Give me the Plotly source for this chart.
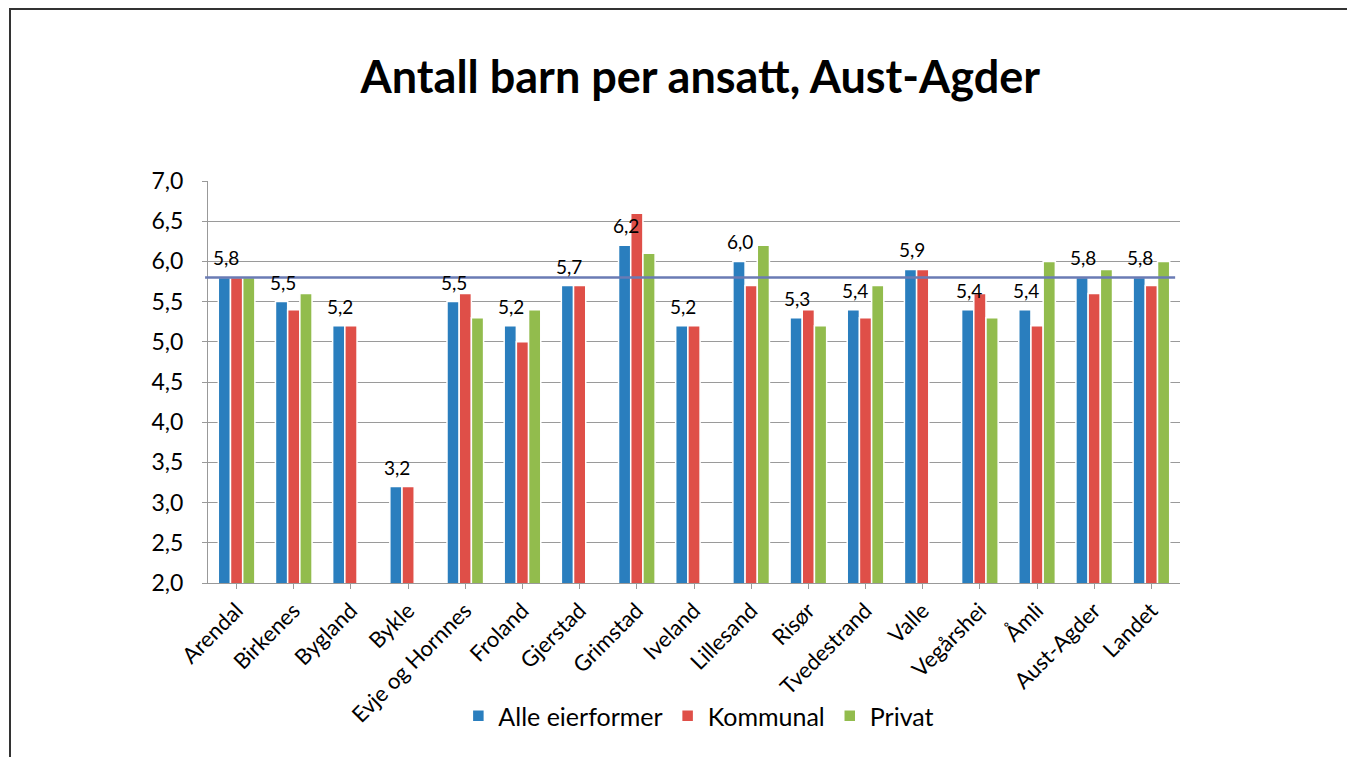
import plotly.graph_objects as go

categories = ["Arendal", "Birkenes", "Bygland", "Bykle", "Evje og Hornnes", "Froland",
              "Gjerstad", "Grimstad", "Iveland", "Lillesand", "Risør", "Tvedestrand",
              "Valle", "Vegårshei", "Åmli", "Aust-Agder", "Landet"]
alle = [5.8, 5.5, 5.2, 3.2, 5.5, 5.2, 5.7, 6.2, 5.2, 6.0, 5.3, 5.4, 5.9, 5.4, 5.4, 5.8, 5.8]
kommunal = [5.8, 5.4, 5.2, 3.2, 5.6, 5.0, 5.7, 6.6, 5.2, 5.7, 5.4, 5.3, 5.9, 5.6, 5.2, 5.6, 5.7]
privat = [5.8, 5.6, None, None, 5.3, 5.4, None, 6.1, None, 6.2, 5.2, 5.7, None, 5.3, 6.0, 5.9, 6.0]
reference_value = 5.8
y_ticks = [2.0, 2.5, 3.0, 3.5, 4.0, 4.5, 5.0, 5.5, 6.0, 6.5, 7.0]

FONT = "Lato, 'Open Sans', sans-serif"
fmt = lambda v: f"{v:.1f}".replace(".", ",")

fig = go.Figure()
fig.add_trace(go.Bar(name="Alle eierformer", x=categories, y=alle,
                     marker=dict(color="#2A7EBE", line=dict(color="white", width=1.5))))
fig.add_trace(go.Bar(name="Kommunal", x=categories, y=kommunal,
                     marker=dict(color="#DF4F48", line=dict(color="white", width=1.5))))
fig.add_trace(go.Bar(name="Privat", x=categories, y=privat,
                     marker=dict(color="#92BC4D", line=dict(color="white", width=1.5))))

# data labels for "Alle eierformer", drawn above all bars
for c, v in zip(categories, alle):
    fig.add_annotation(x=c, y=v, text=fmt(v), showarrow=False, xanchor="center",
                       yanchor="bottom", xshift=-11, yshift=6,
                       font=dict(size=19, family=FONT, color="black"))

fig.add_shape(type="line", xref="paper", yref="y", x0=-0.003, x1=0.995,
              y0=reference_value, y1=reference_value,
              line=dict(color="#6A7BB4", width=2.5), layer="above")
# outer frame
fig.add_shape(type="rect", xref="paper", yref="paper", x0=-0.2037, x1=2, y0=-2, y1=1.428,
              line=dict(color="#333333", width=2), fillcolor="rgba(0,0,0,0)", layer="below")

fig.update_layout(
    width=1347, height=749,
    margin=dict(l=200, r=175, t=173, b=174),
    paper_bgcolor="white", plot_bgcolor="white",
    separators=", ",
    font=dict(family=FONT, color="black"),
    title=dict(text="<b>Antall barn per ansatt, Aust-Agder</b>", x=0.514, xanchor="center",
               y=0.908, yanchor="middle", font=dict(size=45, family=FONT, color="black")),
    barmode="group", bargap=0.36, bargroupgap=0.0,
    showlegend=True,
    legend=dict(orientation="h", x=0.505, xanchor="center", y=-0.331, yanchor="middle",
                font=dict(size=25, family=FONT), itemwidth=30, traceorder="normal"),
    xaxis=dict(tickangle=-45, tickfont=dict(size=22, family=FONT), showline=True,
               linecolor="#999999", linewidth=1, ticks="outside", ticklen=5, tickcolor="#999999",
               showgrid=False),
    yaxis=dict(range=[2, 7], tickvals=y_ticks, ticktext=[fmt(v) for v in y_ticks],
               tickfont=dict(size=23, family=FONT), showline=True, linecolor="#999999",
               linewidth=1, gridcolor="#9A9A9A", gridwidth=1, ticks="outside", ticklen=5,
               tickcolor="#999999", zeroline=False, ticklabelstandoff=14),
)

fig.write_html("out.html")
